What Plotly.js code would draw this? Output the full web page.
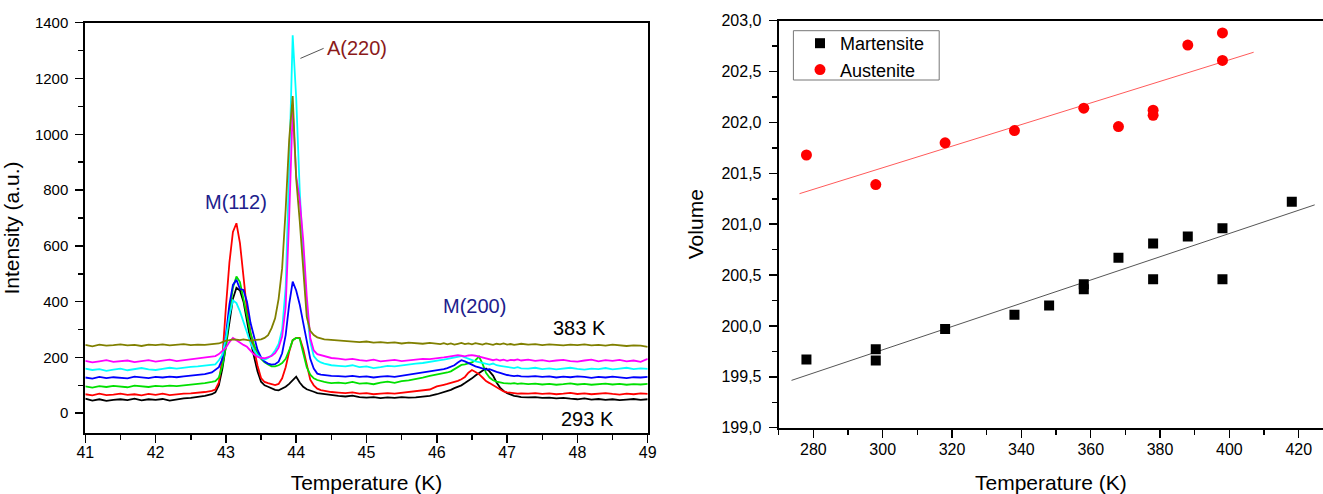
<!DOCTYPE html>
<html>
<head>
<meta charset="utf-8">
<script src="https://cdn.plot.ly/plotly-3.0.1.min.js"></script>
<style>html,body{margin:0;padding:0;background:#fff;}#chart{width:1323px;height:494px;}</style>
</head>
<body>
<div id="chart"></div>
<script>
// ---------- Left panel: XRD patterns ----------
const twoTheta = [
 41.0,41.1,41.2,41.3,41.4,41.5,41.6,41.7,41.8,41.9,42.0,42.1,42.2,42.3,42.4,42.5,42.6,42.7,42.8,
 42.85,42.9,42.95,43.0,43.05,43.1,43.15,43.2,43.25,43.3,43.35,43.4,43.45,43.5,43.55,43.6,43.65,43.7,43.75,43.8,43.85,43.9,43.95,44.0,44.05,44.1,44.15,44.2,44.25,44.3,44.35,44.4,44.45,44.5,
 44.6,44.7,44.8,44.9,45.0,45.1,45.2,45.3,45.4,45.5,45.6,45.7,45.8,45.9,
 46.0,46.05,46.1,46.15,46.2,46.25,46.3,46.35,46.4,46.45,46.5,46.55,46.6,46.65,46.7,46.75,46.8,46.85,46.9,46.95,47.0,47.05,47.1,47.15,47.2,
 47.3,47.4,47.5,47.6,47.7,47.8,47.9,48.0,48.1,48.2,48.3,48.4,48.5,48.6,48.7,48.8,48.9,49.0
];
const int293 = [
 52,45,50,44,48,50,47,52,46,50,48,51,45,50,53,55,58,62,68,
 75,100,160,240,330,410,450,440,400,324,260,203,150,113,100,95,88,84,82,88,95,105,118,131,110,95,86,80,77,72,70,68,66,65,
 62,60,63,58,56,58,54,57,55,58,56,57,59,62,
 68,72,75,78,84,90,95,100,108,115,125,135,145,152,160,150,135,110,92,80,72,66,62,60,58,
 57,58,55,56,53,55,52,50,53,49,51,48,50,47,49,51,48,50
];
const intRed = [
 68,64,70,65,67,70,66,68,64,69,66,70,65,68,70,71,73,76,80,
 85,110,200,380,540,650,681,610,500,370,290,227,170,126,112,108,104,101,105,125,165,220,262,270,270,230,175,120,100,88,83,80,78,76,
 74,72,75,70,72,68,70,72,70,73,75,77,80,85,
 96,98,102,105,108,112,116,122,130,145,155,148,140,128,115,108,100,92,85,78,75,73,72,70,71,
 70,72,69,71,68,70,73,69,71,68,70,72,69,67,70,68,71,69
];
const intGreen = [
 96,92,97,94,98,95,93,99,96,94,98,96,99,97,100,102,104,108,112,
 115,128,170,240,360,450,490,470,406,340,288,245,214,195,183,175,168,168,172,180,195,225,262,270,268,216,165,138,125,119,115,112,110,108,
 110,107,112,106,108,104,110,113,109,115,118,122,128,134,
 138,140,142,146,150,158,168,173,175,178,182,190,203,178,145,128,118,113,110,108,107,106,108,105,107,
 104,106,103,105,102,104,107,103,105,102,104,106,103,105,102,104,103,105
];
const intBlue = [
 128,124,130,126,129,127,125,131,128,126,130,128,131,129,132,134,136,140,146,
 155,165,195,280,390,460,478,445,442,400,324,270,227,200,185,178,174,176,185,215,280,390,472,440,390,324,255,195,160,142,138,136,135,134,
 133,131,134,130,132,128,131,133,130,134,138,142,146,150,
 152,155,158,162,166,172,182,190,186,180,172,168,164,160,156,158,152,148,145,140,137,135,133,135,132,
 131,133,130,132,128,131,129,132,130,127,130,128,131,129,126,129,128,130
];
const intCyan = [
 160,155,158,152,156,160,154,158,162,157,155,159,163,160,164,166,168,170,172,
 175,190,210,270,350,405,395,365,325,290,252,225,208,198,192,198,208,225,248,300,450,880,1355,1130,800,560,370,255,205,190,182,178,175,172,
 170,168,172,165,168,162,165,170,168,172,175,178,180,185,
 188,190,192,195,198,200,202,205,200,195,190,186,183,180,176,174,178,172,170,168,166,164,162,165,161,
 160,163,158,161,157,160,163,159,156,160,158,162,157,160,163,158,161,159
];
const intMagenta = [
 188,182,186,190,184,187,189,183,186,190,185,188,192,187,190,193,196,198,202,
 205,212,222,235,255,270,262,252,245,238,222,210,203,198,197,200,205,215,235,275,380,700,1090,850,765,620,420,270,225,212,208,204,200,198,
 196,192,195,190,188,192,186,189,191,187,190,193,195,194,
 196,198,200,202,204,206,208,206,204,207,208,206,203,200,196,194,190,193,189,192,188,191,190,193,189,
 192,188,190,186,189,191,187,185,189,192,186,190,188,191,186,189,184,195
];
const int383 = [
 245,240,246,242,244,247,243,245,241,246,244,247,243,245,248,244,246,245,247,
 248,250,255,260,262,265,264,262,265,262,260,262,264,265,270,280,305,340,410,520,730,980,1137,840,690,500,345,295,280,272,268,265,264,263,
 262,260,258,255,257,253,255,252,254,250,253,251,249,252,
 250,248,251,247,250,246,249,252,248,250,247,251,249,246,250,248,245,249,247,250,246,248,245,247,249,
 246,248,244,247,245,243,246,244,247,243,245,242,246,244,241,243,242,238
];
const spectra = [int293, intRed, intGreen, intBlue, intCyan, intMagenta, int383];
const spectraColors = ['#000000', '#ff0000', '#00e000', '#0000ff', '#00ffff', '#ff00ff', '#808000'];

// ---------- Right panel: volume vs temperature ----------
const martT = [278, 298, 298, 318, 338, 348, 358, 358, 368, 378, 378, 388, 398, 398, 418];
const martV = [199.67, 199.77, 199.66, 199.97, 200.11, 200.20, 200.41, 200.36, 200.67, 200.81, 200.46, 200.88, 200.96, 200.46, 201.22];
const austT = [278, 298, 318, 338, 358, 368, 378, 378, 388, 398, 398];
const austV = [201.68, 201.39, 201.80, 201.92, 202.14, 201.96, 202.12, 202.07, 202.76, 202.88, 202.61];
const martFitT = [273.7, 424.6];
const martFitV = [199.465, 201.19];
const austFitT = [276.0, 407.0];
const austFitV = [201.30, 202.69];

const traces = [];
spectra.forEach((vals, i) => {
  traces.push({x: twoTheta, y: vals, type: 'scatter', mode: 'lines', xaxis: 'x', yaxis: 'y',
    line: {color: spectraColors[i], width: 1.8}, showlegend: false, hoverinfo: 'skip'});
});
traces.push({x: martFitT, y: martFitV, type: 'scatter', mode: 'lines', xaxis: 'x2', yaxis: 'y2',
  line: {color: '#555555', width: 1}, showlegend: false});
traces.push({x: austFitT, y: austFitV, type: 'scatter', mode: 'lines', xaxis: 'x2', yaxis: 'y2',
  line: {color: '#ff5a5a', width: 1}, showlegend: false});
traces.push({x: martT, y: martV, type: 'scatter', mode: 'markers', name: 'Martensite', xaxis: 'x2', yaxis: 'y2',
  marker: {symbol: 'square', size: 10, color: '#000000'}});
traces.push({x: austT, y: austV, type: 'scatter', mode: 'markers', name: 'Austenite', xaxis: 'x2', yaxis: 'y2',
  marker: {symbol: 'circle', size: 11, color: '#ff0000'}});

const W = 1323, H = 494;
const axBase = {
  showgrid: false, zeroline: false, showline: true, linecolor: '#000', linewidth: 2, mirror: true,
  ticks: 'outside', ticklen: 8, tickwidth: 1.5, tickcolor: '#000', ticklabelstandoff: 4,
};
const layout = {
  width: W, height: H,
  margin: {l: 0, r: 0, t: 0, b: 0},
  paper_bgcolor: '#fff', plot_bgcolor: '#fff',
  separators: ',.',
  font: {family: 'Liberation Sans, Arial, sans-serif', color: '#000', size: 15},
  showlegend: true,
  xaxis: Object.assign({}, axBase, {
    domain: [85.3 / W, 647.7 / W], range: [41, 49], anchor: 'y', tick0: 41, dtick: 1,
    minor: {ticks: 'outside', ticklen: 5, tickwidth: 1.5, tickcolor: '#000', dtick: 0.5},
    tickfont: {size: 16}, ticklabelstandoff: -5,
    title: {text: 'Temperature (K)', font: {size: 21}, standoff: 18}
  }),
  yaxis: Object.assign({}, axBase, {
    domain: [1 - 433.3 / H, 1 - 22.7 / H], range: [-72, 1400], anchor: 'x', tick0: 0, dtick: 200,
    minor: {ticks: 'outside', ticklen: 5, tickwidth: 1.5, tickcolor: '#000', dtick: 100},
    tickfont: {size: 15},
    title: {text: 'Intensity (a.u.)', font: {size: 21}, standoff: 10}
  }),
  xaxis2: Object.assign({}, axBase, {
    domain: [778.7 / W, 1], range: [270, 427], anchor: 'y2', tick0: 280, dtick: 20,
    minor: {ticks: 'outside', ticklen: 5, tickwidth: 1.5, tickcolor: '#000', dtick: 10},
    tickfont: {size: 16}, ticklabelstandoff: -2,
    title: {text: 'Temperature (K)', font: {size: 21}, standoff: 19}
  }),
  yaxis2: Object.assign({}, axBase, {
    domain: [1 - 427.7 / H, 1 - 20.7 / H], range: [199, 203], anchor: 'x2', tick0: 199, dtick: 0.5,
    tickformat: '.1f',
    minor: {ticks: 'outside', ticklen: 5, tickwidth: 1.5, tickcolor: '#000', dtick: 0.25},
    tickfont: {size: 16},
    title: {text: 'Volume', font: {size: 21}, standoff: 12}
  }),
  legend: {
    x: 800 / W, y: 1 - 25 / H, xanchor: 'left', yanchor: 'top',
    bgcolor: 'rgba(0,0,0,0)', borderwidth: 0, font: {size: 18},
    tracegroupgap: 0, itemclick: false
  },
  shapes: [
    {type: 'rect', xref: 'paper', yref: 'paper', x0: 793.4 / W, x1: 939.2 / W, y0: 1 - 80 / H, y1: 1 - 30.7 / H,
     line: {color: '#777', width: 1}},
    {type: 'line', xref: 'x', yref: 'y', x0: 44.06, y0: 1272, x1: 44.39, y1: 1308,
     line: {color: '#555', width: 1}}
  ],
  annotations: [
    {xref: 'x', yref: 'y', x: 44.87, y: 1309, text: 'A(220)', showarrow: false, font: {size: 20, color: '#8b1a1a'}},
    {xref: 'x', yref: 'y', x: 43.15, y: 758, text: 'M(112)', showarrow: false, font: {size: 20, color: '#20208c'}},
    {xref: 'x', yref: 'y', x: 46.54, y: 385, text: 'M(200)', showarrow: false, font: {size: 20, color: '#20208c'}},
    {xref: 'x', yref: 'y', x: 48.03, y: 305, text: '383 K', showarrow: false, font: {size: 20, color: '#000'}},
    {xref: 'x', yref: 'y', x: 48.15, y: -21, text: '293 K', showarrow: false, font: {size: 20, color: '#000'}}
  ]
};
Plotly.newPlot('chart', traces, layout, {staticPlot: true, displayModeBar: false});
</script>
</body>
</html>
